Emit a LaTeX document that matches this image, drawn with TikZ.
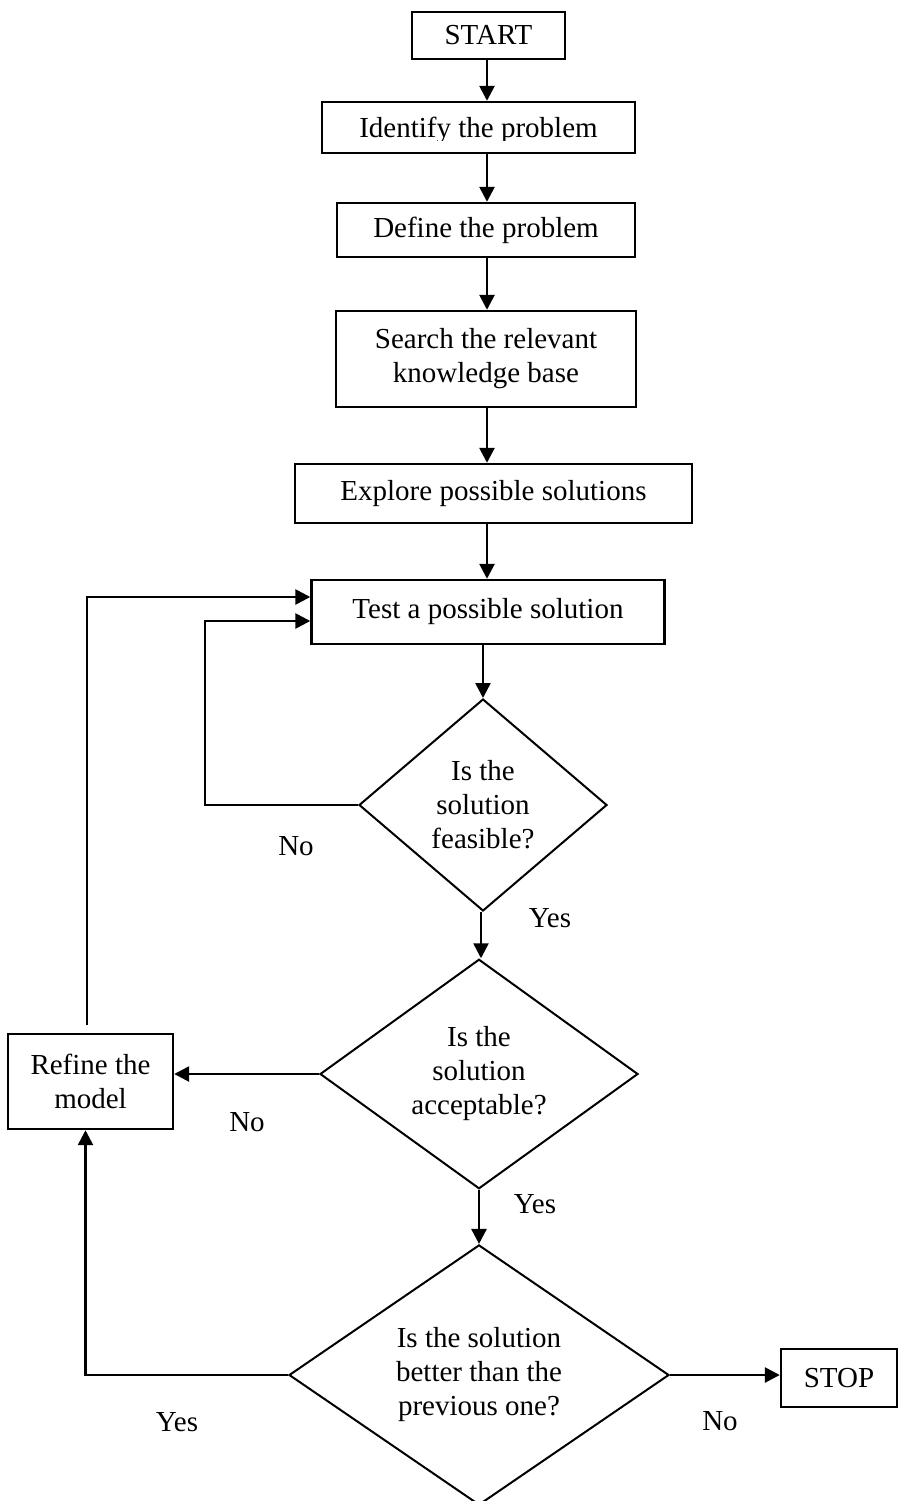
\documentclass[tikz,border=0pt]{standalone}
\usepackage{fontspec}
\setmainfont{Liberation Serif}
\usetikzlibrary{arrows.meta,shapes.geometric}
\begin{document}
\begin{tikzpicture}[x=1pt,y=-1pt,
  txt/.style={font=\fontsize{29}{34}\selectfont},
  stepbox/.style={txt, draw, line width=2.4pt, rectangle, inner sep=0pt, align=center},
  decision/.style={txt, draw, line width=2pt, diamond, inner sep=0pt, align=center},
  flow/.style={line width=2.6pt, -{Triangle[length=15pt,width=15pt]}},
  lbl/.style={txt, anchor=base, inner sep=0pt}]
\useasboundingbox (0,0) rectangle (899,1501);

% main column of process steps
\node[stepbox, minimum width=153pt, minimum height=47pt] (start) at (488.5,35.5) {START};
\node[stepbox, minimum width=313pt, minimum height=51pt] (identify) at (478.5,127.5) {};
\begin{scope}
  \clip (322,102) rectangle (635,140);
  \node[lbl] (identifytext) at (478.5,138) {Identify the problem};
\end{scope}
\node[stepbox, minimum width=298pt, minimum height=54pt] (define) at (486,230) {Define the problem};
\node[stepbox, minimum width=300pt, minimum height=96pt] (search) at (486,359) {Search the relevant\\knowledge base};
\node[stepbox, minimum width=397pt, minimum height=59pt] (explore) at (493.5,493.5) {Explore possible solutions};
\node[stepbox, minimum width=353pt, minimum height=64pt] (test) at (488,612) {Test a possible solution};

% decisions
\node[decision, minimum width=248pt, minimum height=212pt] (d1) at (483,805) {Is the\\solution\\feasible?};
\node[decision, minimum width=318pt, minimum height=226pt] (d2) at (479,1074) {Is the\\solution\\acceptable?};
\node[decision, minimum width=380pt, minimum height=250pt] (d3) at (479,1375) {Is the solution\\better than the\\previous one?};

% side boxes
\node[stepbox, minimum width=165pt, minimum height=95pt] (refine) at (90.5,1081.5) {Refine the\\model};
\node[stepbox, minimum width=116pt, minimum height=58pt] (stop) at (839,1378) {STOP};

% helper points
\coordinate (spine) at (487,0);
\coordinate (c12) at (481,0);
\coordinate (fb) at (205,805);
\coordinate (rt) at (87,1025);

% straight-down connectors
\draw[flow] (start.south -| spine) -- (identify.north -| spine);
\draw[flow] (identify.south -| spine) -- (define.north -| spine);
\draw[flow] (define.south -| spine) -- (search.north -| spine);
\draw[flow] (search.south -| spine) -- (explore.north -| spine);
\draw[flow] (explore.south -| spine) -- (test.north -| spine);
\draw[flow] (test.south -| d1.north) -- (d1.north);
\draw[flow] (d1.south -| c12) -- (d2.north -| c12);
\draw[flow] (d2.south) -- (d3.north);

% feedback loops and exits
\draw[flow] (d1.west) -- (fb) |- ([yshift=-9pt]test.west);
\draw[flow] (rt) |- ([yshift=15pt]test.west);
\draw[flow] (d2.west) -- (d2.west -| refine.east);
\draw[flow] (d3.west) -| ([xshift=-5pt]refine.south);
\draw[flow] (d3.east) -- (d3.east -| stop.west);

% branch labels
\node[lbl] (no1) at (296,855) {No};
\node[lbl] (yes1) at (550,927) {Yes};
\node[lbl] (no2) at (247,1131) {No};
\node[lbl] (yes2) at (535,1213) {Yes};
\node[lbl] (yes3) at (177,1431) {Yes};
\node[lbl] (no3) at (720,1430) {No};
\end{tikzpicture}
\end{document}
